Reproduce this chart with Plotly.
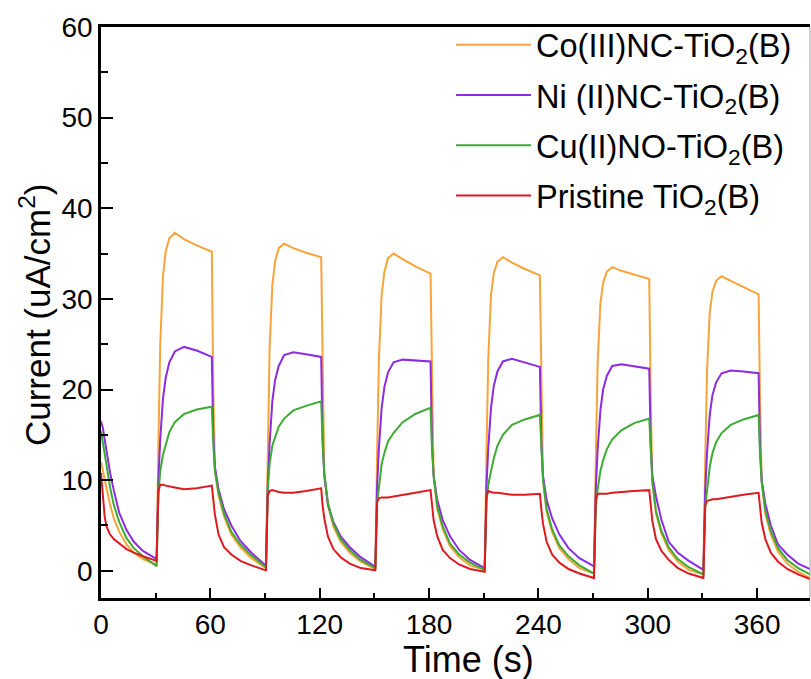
import plotly.graph_objects as go

# ---- data ----
time_s = [0, 1, 2, 3, 5, 7, 10, 14, 18, 23,
          30.5, 31.5, 32.5, 34, 35.5, 37.5, 40.5, 45.5, 52.5, 60.8, 61.6, 62.5, 64.5, 67.5, 71.5, 76.5, 82.5,
          90.5, 91.5, 92.5, 94, 95.5, 97.5, 100.5, 105.5, 112.5, 120.8, 121.6, 122.5, 124.5, 127.5, 131.5, 136.5, 142.5,
          150.5, 151.5, 152.5, 154, 155.5, 157.5, 160.5, 165.5, 172.5, 180.8, 181.6, 182.5, 184.5, 187.5, 191.5, 196.5, 202.5,
          210.5, 211.5, 212.5, 214, 215.5, 217.5, 220.5, 225.5, 232.5, 240.8, 241.6, 242.5, 244.5, 247.5, 251.5, 256.5, 262.5,
          270.5, 271.5, 272.5, 274, 275.5, 277.5, 280.5, 285.5, 292.5, 300.8, 301.6, 302.5, 304.5, 307.5, 311.5, 316.5, 322.5,
          330.5, 331.5, 332.5, 334, 335.5, 337.5, 340.5, 345.5, 352.5, 360.8, 361.6, 362.5, 364.5, 367.5, 371.5, 376.5, 382.5,
          389]

co_current = [12.0, 11.0, 10.0, 9.0, 7.3, 5.8, 4.3, 2.9, 2.0, 1.3,
              0.7, 14.0, 25.0, 32.5, 35.2, 36.7, 37.3, 36.6, 35.9, 35.2, 20.0, 11.0, 8.3, 6.0, 4.0, 2.6, 1.4,
              0.3, 13.5, 24.5, 31.5, 34.1, 35.6, 36.1, 35.6, 35.1, 34.6, 20.0, 10.8, 7.2, 4.9, 3.2, 2.0, 1.0,
              0.2, 13.0, 23.5, 30.5, 33.0, 34.5, 35.0, 34.4, 33.6, 32.8, 19.5, 10.5, 6.8, 4.6, 2.7, 1.5, 0.6,
              0.1, 13.0, 23.5, 30.5, 32.8, 34.1, 34.6, 34.0, 33.3, 32.6, 19.0, 10.0, 6.5, 4.3, 2.5, 1.3, 0.3,
              -0.3, 12.5, 23.0, 29.5, 31.8, 33.0, 33.5, 33.1, 32.7, 32.2, 19.0, 9.8, 6.3, 4.1, 2.3, 1.0, 0.1,
              -0.4, 12.0, 22.0, 28.5, 30.8, 32.0, 32.5, 32.0, 31.3, 30.5, 18.5, 9.8, 6.3, 4.0, 2.1, 0.8, -0.1,
              -0.8]

ni_current = [16.5, 15.8, 14.5, 13.3, 10.8, 8.9, 6.4, 4.5, 3.2, 2.2,
              1.3, 10.0, 14.5, 19.0, 21.3, 23.0, 24.2, 24.7, 24.3, 23.6, 15.0, 11.5, 9.0, 6.8, 5.0, 3.3, 2.0,
              0.55, 9.5, 14.0, 18.7, 21.0, 22.6, 23.8, 24.1, 23.9, 23.6, 14.5, 10.5, 7.3, 5.4, 3.8, 2.6, 1.5,
              0.45, 9.3, 13.6, 18.0, 20.3, 21.9, 23.0, 23.3, 23.2, 23.1, 14.0, 10.5, 7.8, 5.6, 3.8, 2.3, 1.2,
              0.3, 9.3, 13.6, 18.0, 20.4, 22.0, 23.1, 23.4, 23.0, 22.5, 14.0, 10.5, 7.8, 5.8, 4.0, 2.5, 1.4,
              0.5, 9.2, 13.4, 17.7, 20.0, 21.5, 22.6, 22.8, 22.6, 22.3, 14.0, 10.5, 8.2, 5.6, 3.2, 2.0, 1.1,
              0.1, 8.8, 13.0, 17.2, 19.4, 20.8, 21.8, 22.1, 22.0, 21.8, 13.5, 10.0, 7.4, 5.0, 2.9, 1.8, 0.8,
              0.2]

cu_current = [15.4, 14.2, 12.8, 11.5, 9.2, 7.3, 5.4, 3.6, 2.5, 1.6,
              0.5, 8.5, 11.0, 12.8, 14.0, 15.3, 16.4, 17.3, 17.8, 18.1, 14.0, 11.0, 8.6, 6.3, 4.3, 2.9, 1.7,
              0.4, 9.0, 11.8, 13.8, 14.8, 15.9, 16.8, 17.7, 18.2, 18.7, 14.0, 10.8, 7.5, 5.2, 3.5, 2.3, 1.2,
              0.3, 7.5, 9.5, 11.8, 13.0, 14.3, 15.2, 16.4, 17.3, 18.0, 13.5, 10.5, 7.1, 4.9, 3.0, 1.8, 0.9,
              0.1, 7.5, 9.5, 11.0, 12.4, 13.8, 15.0, 16.1, 16.7, 17.2, 13.0, 10.0, 6.8, 4.6, 2.8, 1.6, 0.6,
              -0.3, 7.0, 9.0, 11.0, 12.2, 13.4, 14.5, 15.5, 16.3, 16.8, 12.8, 9.8, 6.6, 4.4, 2.6, 1.3, 0.4,
              -0.4, 7.0, 9.0, 11.5, 13.0, 14.2, 15.2, 16.1, 16.7, 17.2, 12.8, 9.8, 6.6, 4.4, 2.5, 1.2, 0.3,
              -0.4]

pristine_current = [10.8, 8.0, 6.0, 4.9, 4.0, 3.5, 3.0, 2.4, 2.0, 1.6,
                    1.1, 8.8, 9.5, 9.5, 9.4, 9.3, 9.2, 9.0, 9.1, 9.4, 7.5, 6.2, 4.0, 2.6, 1.8, 1.1, 0.6,
                    0.05, 8.3, 8.8, 8.9, 8.8, 8.7, 8.6, 8.6, 8.8, 9.1, 7.2, 5.8, 3.8, 2.4, 1.5, 0.8, 0.3,
                    0.05, 7.6, 8.0, 8.1, 8.1, 8.1, 8.2, 8.4, 8.6, 8.9, 7.0, 5.6, 3.8, 2.3, 1.4, 0.7, 0.2,
                    -0.1, 8.3, 8.8, 8.7, 8.6, 8.6, 8.5, 8.4, 8.4, 8.5, 6.8, 5.2, 3.2, 1.8, 0.9, 0.2, -0.3,
                    -0.8, 8.0, 8.5, 8.5, 8.5, 8.5, 8.6, 8.7, 8.8, 8.9, 7.0, 5.5, 3.5, 2.2, 1.2, 0.3, -0.3,
                    -0.8, 7.2, 7.7, 7.8, 7.9, 7.9, 8.0, 8.2, 8.4, 8.6, 6.8, 5.3, 3.5, 2.0, 1.0, 0.2, -0.4,
                    -0.9]

series_names = ["Co(III)NC-TiO<sub>2</sub>(B)", "Ni (II)NC-TiO<sub>2</sub>(B)",
                "Cu(II)NO-TiO<sub>2</sub>(B)", "Pristine TiO<sub>2</sub>(B)"]
series_values = [co_current, ni_current, cu_current, pristine_current]
series_colors = ["#F7A43A", "#8C2BE0", "#3DAA34", "#DC1A20"]

x_ticks = [0, 60, 120, 180, 240, 300, 360]
y_ticks = [0, 10, 20, 30, 40, 50, 60]

fig = go.Figure()
for i, (name, vals, col) in enumerate(zip(series_names, series_values, series_colors)):
    fig.add_trace(go.Scatter(x=time_s, y=vals, mode="lines", name=name,
                             legendgroup=f"g{i}",
                             line=dict(color=col, width=2)))

axis_common = dict(showgrid=False, zeroline=False, showline=True, linecolor="black",
                   linewidth=2.5, ticks="inside", tickcolor="black", tickwidth=2,
                   tickfont=dict(size=28, color="black"))

fig.update_xaxes(range=[0, 389], tickvals=x_ticks, ticklen=10, mirror=True,
                 minor=dict(dtick=30, tick0=0, ticks="inside", ticklen=5, tickwidth=2, tickcolor="black"),
                 **axis_common)
fig.update_yaxes(range=[-3, 60], tickvals=y_ticks, ticklen=12,
                 minor=dict(dtick=5, tick0=0, ticks="inside", ticklen=7, tickwidth=2, tickcolor="black"),
                 **axis_common)

fig.update_layout(
    width=811, height=679,
    margin=dict(l=101, r=1, t=27, b=81),
    plot_bgcolor="white", paper_bgcolor="white",
    font=dict(family="Liberation Sans, Arial, sans-serif", color="black"),
    legend=dict(x=0.4937, y=1.0175, xanchor="left", yanchor="top",
                font=dict(size=32.5, color="black"), bgcolor="rgba(0,0,0,0)",
                itemwidth=75, traceorder="grouped", tracegroupgap=5),
    shapes=[dict(type="line", xref="paper", yref="paper", x0=1, x1=1, y0=0, y1=1,
                 line=dict(color="#A0A0A0", width=1))],
    annotations=[
        dict(text="Time (s)", xref="paper", yref="paper", x=0.519, y=-0.107,
             xanchor="center", yanchor="middle", showarrow=False, font=dict(size=36)),
        dict(text="Current (uA/cm<sup>2</sup>)", xref="paper", yref="paper", x=-0.093, y=0.4956,
             xanchor="center", yanchor="middle", textangle=-90, showarrow=False, font=dict(size=35)),
    ],
)

fig.write_html("out.html")
